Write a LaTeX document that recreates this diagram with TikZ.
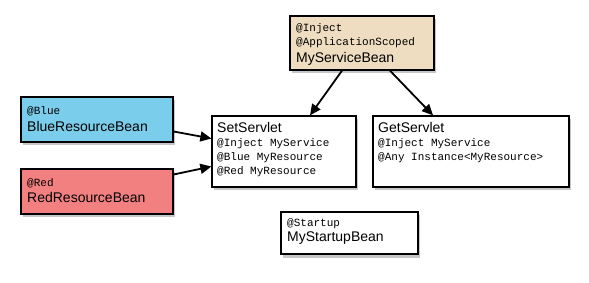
\documentclass[tikz,border=0pt]{standalone}
\usepackage{fontspec}
\setmainfont{Liberation Sans}
\newfontfamily\monof{Liberation Mono}
\usetikzlibrary{arrows.meta,shadows}
\definecolor{tanbg}{RGB}{238,221,192}
\definecolor{bluebg}{RGB}{122,205,235}
\definecolor{redbg}{RGB}{242,128,128}
\tikzset{
  bean/.style={draw=black, line width=1.3pt, rectangle, inner sep=0pt,
    drop shadow={shadow xshift=2pt, shadow yshift=-3.5pt, opacity=0.45}},
  annot/.style={anchor=base west, inner sep=0pt, font=\monof\fontsize{11}{12}\selectfont},
  bname/.style={anchor=base west, inner sep=0pt, font=\fontsize{14}{16}\selectfont},
  conn/.style={line width=1.8pt, -{Triangle[length=11pt,width=10pt]}}
}
\begin{document}
\begin{tikzpicture}[x=1pt,y=-1pt]
\useasboundingbox (0,0) rectangle (589,283);
% boxes
\node[bean, fill=tanbg, minimum width=144pt, minimum height=54pt] (svc) at (362,43) {};
\node[bean, fill=bluebg, minimum width=152pt, minimum height=45pt] (blue) at (97,119.5) {};
\node[bean, fill=redbg, minimum width=152pt, minimum height=45pt] (red) at (97,191.5) {};
\node[bean, fill=white, minimum width=144pt, minimum height=71pt] (set) at (284,151.5) {};
\node[bean, fill=white, minimum width=196pt, minimum height=71pt] (get) at (471,151.5) {};
\node[bean, fill=white, minimum width=137pt, minimum height=42pt] (start) at (349.5,233) {};
% texts
\node[annot] (svcA) at (296,32) {@Inject};
\node[annot] (svcB) at (296,46) {@ApplicationScoped};
\node[bname] (svcN) at (296,63) {MyServiceBean};
\node[annot] (blueA) at (27,115) {@Blue};
\node[bname] (blueN) at (27,132) {BlueResourceBean};
\node[annot] (redA) at (27,187) {@Red};
\node[bname] (redN) at (27,203) {RedResourceBean};
\node[bname] (setN) at (217,133) {SetServlet};
\node[annot] (setA) at (217,147) {@Inject MyService};
\node[annot] (setB) at (217,161) {@Blue MyResource};
\node[annot] (setC) at (217,175) {@Red MyResource};
\node[bname] (getN) at (378,133) {GetServlet};
\node[annot] (getA) at (378,147) {@Inject MyService};
\node[annot] (getB) at (378,161) {@Any Instance<MyResource>};
\node[annot] (startA) at (287,226) {@Startup};
\node[bname] (startN) at (287,242) {MyStartupBean};
% connectors
\draw[conn] ([xshift=-20pt]svc.south) -- ([xshift=26pt]set.north);
\draw[conn] ([xshift=28pt]svc.south) -- ([xshift=-38pt]get.north);
\draw[conn] ([yshift=-12pt]blue.east) -- ([yshift=13pt]set.west);
\draw[conn] ([yshift=17pt]red.east) -- ([yshift=-15pt]set.west);
\end{tikzpicture}
\end{document}
